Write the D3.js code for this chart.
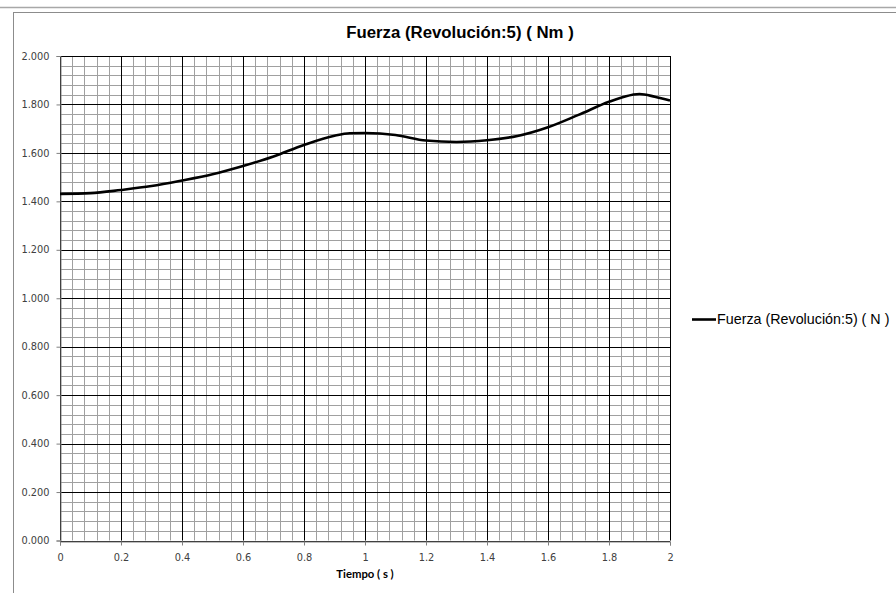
<!DOCTYPE html>
<html>
<head>
<meta charset="utf-8">
<script src="https://cdn.jsdelivr.net/npm/d3@7"></script>
<style>
  html, body { margin: 0; padding: 0; background: #fff; }
  svg { display: block; }
</style>
</head>
<body>
<svg id="chart" width="896" height="593"></svg>
<script>
// Force over time, revolution 5
const tiempo = [0, 0.1, 0.2, 0.3, 0.4, 0.5, 0.6, 0.7, 0.8, 0.9, 0.95, 1.0, 1.1, 1.2, 1.3, 1.4, 1.5, 1.6, 1.7, 1.8, 1.85, 1.9, 1.95, 2.0];
const fuerza = [1.431, 1.434, 1.447, 1.463, 1.486, 1.512, 1.546, 1.585, 1.633, 1.671, 1.681, 1.682, 1.674, 1.651, 1.645, 1.652, 1.670, 1.706, 1.757, 1.811, 1.832, 1.843, 1.832, 1.816];
const xTicks = [0, 0.2, 0.4, 0.6, 0.8, 1, 1.2, 1.4, 1.6, 1.8, 2];
const yTicks = [0, 0.2, 0.4, 0.6, 0.8, 1.0, 1.2, 1.4, 1.6, 1.8, 2.0];

const titleText = "Fuerza (Revolución:5) ( Nm )";
const xLabel = "Tiempo ( s )";
const legendText = "Fuerza (Revolución:5) ( N )";

const svg = d3.select("#chart");
const plotL = 60, plotR = 670, plotT = 56, plotB = 540.5;

const x = d3.scaleLinear().domain([0, 2]).range([plotL, plotR]);
const y = d3.scaleLinear().domain([0, 2]).range([plotB, plotT]);

// window edge and chart frame
svg.append("line").attr("x1", 0).attr("x2", 896).attr("y1", 7.5).attr("y2", 7.5)
  .attr("stroke", "#a8a8a8").attr("stroke-width", 1.5);
svg.append("rect").attr("x", 13.5).attr("y", 12.5).attr("width", 1000).attr("height", 700)
  .attr("fill", "none").attr("stroke", "#8c8c8c").attr("stroke-width", 1);

// minor grid every 0.04
const minor = d3.range(0, 2.0001, 0.04);
const grid = svg.append("g");
grid.selectAll("line.vx").data(minor).join("line")
  .attr("x1", d => Math.round(x(d)) + 0.5).attr("x2", d => Math.round(x(d)) + 0.5)
  .attr("y1", plotT).attr("y2", plotB)
  .attr("stroke", "#a0a0a0").attr("stroke-width", 1);
grid.selectAll("line.hy").data(minor).join("line")
  .attr("y1", d => Math.round(y(d)) + 0.5).attr("y2", d => Math.round(y(d)) + 0.5)
  .attr("x1", plotL).attr("x2", plotR)
  .attr("stroke", "#a0a0a0").attr("stroke-width", 1);

// major grid
grid.selectAll("line.mx").data(xTicks).join("line")
  .attr("x1", d => Math.round(x(d)) + 0.5).attr("x2", d => Math.round(x(d)) + 0.5)
  .attr("y1", plotT).attr("y2", plotB)
  .attr("stroke", "#000").attr("stroke-width", 1);
grid.selectAll("line.my").data(yTicks).join("line")
  .attr("y1", d => Math.round(y(d)) + 0.5).attr("y2", d => Math.round(y(d)) + 0.5)
  .attr("x1", plotL).attr("x2", plotR)
  .attr("stroke", "#000").attr("stroke-width", 1);

// axes
const fmtY = d3.format(".3f");
const fmtX = d => String(+d.toFixed(1));
const yAxis = svg.append("g").attr("transform", `translate(${plotL + 0.5},0)`)
  .call(d3.axisLeft(y).tickValues(yTicks).tickFormat(fmtY).tickSize(4).tickPadding(7));
const xAxis = svg.append("g").attr("transform", `translate(0,${Math.round(plotB) + 0.5})`)
  .call(d3.axisBottom(x).tickValues(xTicks).tickFormat(fmtX).tickSize(4).tickPadding(9));
[yAxis, xAxis].forEach(a => {
  a.select(".domain").attr("stroke", "#808080");
  a.selectAll(".tick line").attr("stroke", "#808080");
  a.selectAll(".tick text").attr("fill", "#404040")
    .style("font-family", "'DejaVu Sans', sans-serif").style("font-size", "9.8px");
});

// data line
const line = d3.line().x((d, i) => x(tiempo[i])).y(d => y(d)).curve(d3.curveMonotoneX);
svg.append("path").datum(fuerza).attr("d", line)
  .attr("fill", "none").attr("stroke", "#000").attr("stroke-width", 2.6)
  .attr("stroke-linejoin", "round");

// title
svg.append("text").attr("x", 460).attr("y", 37.5).attr("text-anchor", "middle")
  .style("font-family", "'Liberation Sans', Arial, sans-serif").style("font-weight", "bold")
  .style("font-size", "16.8px").attr("fill", "#000").text(titleText);

// x axis title
svg.append("text").attr("x", 365).attr("y", 578).attr("text-anchor", "middle")
  .style("font-family", "Lato, 'Open Sans', sans-serif").style("font-weight", "bold")
  .style("font-size", "11.3px").attr("fill", "#000").text(xLabel);

// legend
svg.append("line").attr("x1", 692).attr("x2", 716).attr("y1", 319.5).attr("y2", 319.5)
  .attr("stroke", "#000").attr("stroke-width", 2.6);
svg.append("text").attr("x", 717).attr("y", 323.5)
  .style("font-family", "'Liberation Sans', Arial, sans-serif")
  .style("font-size", "14.3px").attr("fill", "#000").text(legendText);
</script>
</body>
</html>
